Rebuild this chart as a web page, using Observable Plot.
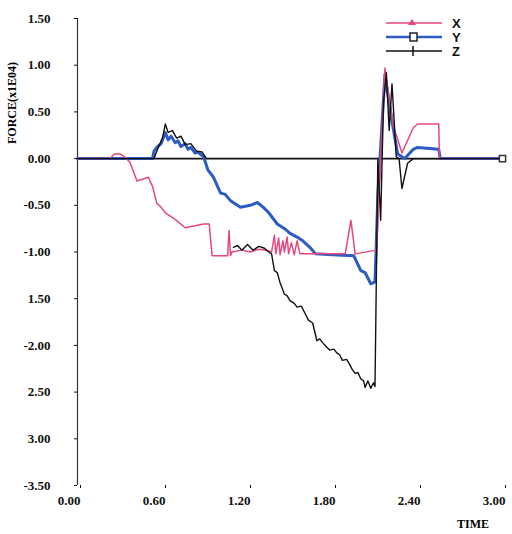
<!DOCTYPE html>
<html>
<head>
<meta charset="utf-8">
<script src="https://cdn.jsdelivr.net/npm/d3@7"></script>
<script src="https://cdn.jsdelivr.net/npm/@observablehq/plot@0.6"></script>
<style>
  html, body { margin: 0; padding: 0; background: #fff; }
  #wrap { position: relative; width: 512px; height: 534px; font-family: "Liberation Serif", "DejaVu Serif", serif; font-weight: bold; }
  #ylabel { position: absolute; left: 12px; top: 103px; transform: translate(-50%, -50%) rotate(-90deg); font-size: 12px; white-space: nowrap; }
  #xlabel { position: absolute; left: 457px; top: 517px; font-size: 12px; }
  #legend { position: absolute; left: 380px; top: 14px; }
</style>
</head>
<body>
<div id="wrap">
  <div id="chart"></div>
  <div id="ylabel">FORCE(x1E04)</div>
  <div id="xlabel">TIME</div>
  <div id="legend"></div>
</div>
<script>
// ---- data (time in s, force in x1E04) ----
const timeX = [0, 0.23, 0.26, 0.30, 0.34, 0.37, 0.42, 0.50, 0.53, 0.56, 0.59, 0.62, 0.69, 0.76, 0.89, 0.93, 0.95, 1.06, 1.07, 1.08, 1.09, 1.16, 1.22, 1.28, 1.33, 1.37, 1.39, 1.40, 1.42, 1.43, 1.45, 1.46, 1.48, 1.49, 1.51, 1.53, 1.55, 1.57, 1.89, 1.93, 1.96, 2.11, 2.17, 2.19, 2.23, 2.29, 2.37, 2.40, 2.55, 2.555, 3.0];
const forceX = [0, 0, 0.05, 0.05, 0.01, -0.04, -0.24, -0.20, -0.30, -0.48, -0.52, -0.58, -0.65, -0.74, -0.70, -0.70, -1.04, -1.04, -0.77, -1.04, -1.0, -0.98, -1.0, -0.97, -0.98, -1.0, -0.82, -1.02, -0.85, -1.03, -0.88, -1.0, -0.84, -1.02, -0.9, -1.03, -0.88, -1.02, -1.02, -0.66, -1.02, -0.98, 0.97, 0.75, 0.35, 0.06, 0.33, 0.37, 0.37, 0, 0];

const timeY = [0, 0.53, 0.54, 0.56, 0.59, 0.62, 0.64, 0.66, 0.69, 0.71, 0.73, 0.76, 0.78, 0.80, 0.83, 0.85, 0.89, 0.92, 0.96, 1.01, 1.04, 1.08, 1.15, 1.22, 1.27, 1.31, 1.35, 1.41, 1.47, 1.50, 1.55, 1.59, 1.64, 1.68, 1.80, 1.95, 2.00, 2.03, 2.07, 2.10, 2.12, 2.17, 2.19, 2.22, 2.26, 2.31, 2.37, 2.40, 2.55, 2.56, 3.0];
const forceY = [0, 0, 0.08, 0.12, 0.16, 0.28, 0.20, 0.24, 0.17, 0.19, 0.13, 0.16, 0.10, 0.12, 0.06, 0.07, 0.02, -0.12, -0.20, -0.37, -0.38, -0.45, -0.52, -0.50, -0.47, -0.52, -0.58, -0.70, -0.76, -0.80, -0.84, -0.88, -0.95, -1.02, -1.03, -1.04, -1.20, -1.22, -1.34, -1.32, -0.4, 0.90, 0.70, 0.40, 0.05, 0.0, 0.10, 0.12, 0.10, 0, 0];

const timeZ = [0, 0.54, 0.57, 0.60, 0.62, 0.64, 0.67, 0.70, 0.73, 0.76, 0.80, 0.84, 0.88, 0.91, 0.92, 1.10, 1.13, 1.16, 1.20, 1.24, 1.28, 1.32, 1.35, 1.37, 1.39, 1.41, 1.43, 1.46, 1.48, 1.50, 1.53, 1.55, 1.58, 1.60, 1.63, 1.66, 1.69, 1.71, 1.73, 1.76, 1.78, 1.81, 1.83, 1.85, 1.87, 1.90, 1.92, 1.94, 1.96, 1.98, 2.00, 2.02, 2.03, 2.05, 2.07, 2.09, 2.10, 2.12, 2.14, 2.16, 2.18, 2.20, 2.22, 2.25, 2.27, 2.29, 2.33, 2.37, 3.0];
const forceZ = [0, 0, 0.12, 0.22, 0.37, 0.28, 0.30, 0.22, 0.24, 0.15, 0.16, 0.08, 0.07, 0, null, -0.95, -0.93, -0.98, -0.92, -0.98, -0.94, -0.96, -1.0, -1.02, -1.2, -1.22, -1.33, -1.45, -1.47, -1.52, -1.55, -1.59, -1.58, -1.64, -1.73, -1.76, -1.95, -1.93, -1.97, -2.02, -2.05, -2.04, -2.08, -2.10, -2.16, -2.15, -2.20, -2.26, -2.30, -2.29, -2.36, -2.38, -2.45, -2.38, -2.46, -2.40, -2.44, 0.0, -0.66, 0.6, 0.92, 0.3, 0.8, 0.02, 0, -0.32, -0.05, 0, 0];

const seriesNames = ["X", "Y", "Z"];
const seriesColors = ["#e8477d", "#2a5cc4", "#111111"];

const xTicks = [0, 0.6, 1.2, 1.8, 2.4, 3.0];
const xTickLabels = ["0.00", "0.60", "1.20", "1.80", "2.40", "3.00"];
const yTicks = [1.5, 1.0, 0.5, 0, -0.5, -1.0, -1.5, -2.0, -2.5, -3.0, -3.5];
const yTickLabels = ["1.50", "1.00", "0.50", "0.00", "-0.50", "-1.00", "1.50", "-2.00", "2.50", "3.00", "-3.50"];

// ---- build tables ----
const zip = (t, f) => t.map((d, i) => ({time: d, force: f[i]}));
const dataX = zip(timeX, forceX);
const dataY = zip(timeY, forceY);
const dataZ = zip(timeZ, forceZ);
const xLab = new Map(xTicks.map((d, i) => [d, xTickLabels[i]]));
const yLab = new Map(yTicks.map((d, i) => [d, yTickLabels[i]]));

const font = {fontFamily: "Liberation Serif", fontWeight: "bold", fontSize: "13px"};

const marks = [
  Plot.ruleY([0], {stroke: "#111", strokeWidth: 1.8}),
  Plot.ruleX([0], {stroke: "#333", strokeWidth: 1.2}),
  Plot.line(dataY, {x: "time", y: "force", stroke: seriesColors[1], strokeWidth: 3}),
  Plot.line(dataX, {x: "time", y: "force", stroke: seriesColors[0], strokeWidth: 1.5}),
  Plot.line(dataZ, {x: "time", y: "force", stroke: seriesColors[2], strokeWidth: 1.4}),
  Plot.dot(dataY.slice(-1), {x: "time", y: "force", symbol: "square", r: 3.5, stroke: "#333", strokeWidth: 1.5, fill: "white"})
];

const hasAxisMarks = typeof Plot.axisX === "function";
if (hasAxisMarks) {
  marks.push(
    Plot.axisX(xTicks, {tickSize: 3, tickPadding: 7, textAnchor: "end", dx: 3, tickFormat: d => xLab.get(d), label: null, ...font}),
    Plot.axisY(yTicks, {tickSize: 3, tickPadding: 24, tickFormat: d => yLab.get(d), label: null, ...font})
  );
}

const chart = Plot.plot({
  width: 512,
  height: 534,
  marginLeft: 77,
  marginRight: 10,
  marginTop: 18,
  marginBottom: 49,
  style: {background: "white", color: "#111", ...font},
  x: {domain: [0, 3.0], ...(hasAxisMarks ? {} : {ticks: xTicks, tickFormat: d => xLab.get(d), tickSize: 3, tickPadding: 7, label: null})},
  y: {domain: [-3.5, 1.5], ...(hasAxisMarks ? {} : {ticks: yTicks, tickFormat: d => yLab.get(d), tickSize: 3, tickPadding: 24, label: null})},
  marks
});
document.getElementById("chart").appendChild(chart);

// ---- legend ----
const lg = d3.select("#legend").append("svg").attr("width", 100).attr("height", 46);
const legendMarkers = ["tri", "square", "plus"];
seriesNames.forEach((name, i) => {
  const yy = 9 + i * 14;
  const g = lg.append("g");
  g.append("line").attr("x1", 6).attr("x2", 62).attr("y1", yy).attr("y2", yy)
    .attr("stroke", seriesColors[i]).attr("stroke-width", i === 1 ? 2.5 : 1.6);
  if (legendMarkers[i] === "tri") {
    g.append("path").attr("d", `M32,${yy - 4}L36,${yy + 2}L28,${yy + 2}Z`).attr("fill", seriesColors[i]);
  } else if (legendMarkers[i] === "square") {
    g.append("rect").attr("x", 30).attr("y", yy - 4).attr("width", 7).attr("height", 8)
      .attr("fill", "white").attr("stroke", "#223").attr("stroke-width", 1.5);
  } else {
    g.append("line").attr("x1", 33).attr("x2", 33).attr("y1", yy - 5).attr("y2", yy + 5)
      .attr("stroke", seriesColors[i]).attr("stroke-width", 1.5);
  }
  g.append("text").attr("x", 72).attr("y", yy + 5).text(name)
    .attr("font-family", "Liberation Sans").attr("font-weight", "bold").attr("font-size", 13).attr("fill", "#111");
});
</script>
</body>
</html>
